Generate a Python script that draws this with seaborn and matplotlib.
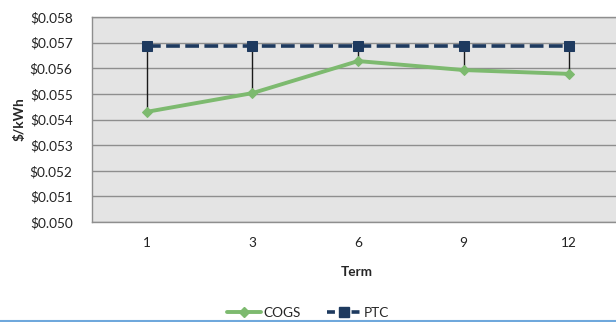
import matplotlib
matplotlib.use("Agg")
import matplotlib.pyplot as plt
from matplotlib.lines import Line2D
import seaborn as sns
import pandas as pd

terms = ["1", "3", "6", "9", "12"]
cogs = [0.05430, 0.05503, 0.05628, 0.05593, 0.05578]
ptc = [0.05688, 0.05688, 0.05688, 0.05688, 0.05688]
y_ticks = [0.050, 0.051, 0.052, 0.053, 0.054, 0.055, 0.056, 0.057, 0.058]

sns.set_theme(style="white")
plt.rcParams["font.family"] = ["Lato", "DejaVu Sans"]

pos = list(range(len(terms)))
df = pd.DataFrame({
    "pos": pos * 2,
    "value": cogs + ptc,
    "series": ["COGS"] * len(terms) + ["PTC"] * len(terms),
})

fig = plt.figure(figsize=(6.16, 3.22), dpi=100)
ax = fig.add_axes([92 / 616, 100 / 322, 1.0 - 92 / 616 + 6 / 616, 205 / 322])
ax.set_facecolor("#e4e4e4")

green = "#7dba6f"
navy = "#1e3a5f"
dash = (0, (3.8, 1.5))
fs = 9.8

# high-low lines between the two series
ax.vlines(pos, cogs, ptc, color="#1a1a1a", lw=1.0, zorder=2)

sns.lineplot(data=df[df.series == "COGS"], x="pos", y="value", ax=ax,
             color=green, lw=2.8, marker="D", markersize=5,
             markeredgecolor=green, label="COGS", zorder=3)
sns.lineplot(data=df[df.series == "PTC"], x="pos", y="value", ax=ax,
             color=navy, lw=2.6, linestyle=dash, marker="s",
             markersize=6.5, markeredgecolor=navy, label="PTC", zorder=4)

ax.set_xlim(-0.52, 4.5)
ax.set_ylim(0.050, 0.058)
ax.set_yticks(y_ticks)
ax.set_yticklabels([f"${v:.3f}" for v in y_ticks], fontsize=fs, color="#222222")
ax.set_xticks(pos)
ax.set_xticklabels(terms, fontsize=fs, color="#222222")
ax.tick_params(axis="both", length=0)
ax.tick_params(axis="y", pad=14)
ax.tick_params(axis="x", pad=11)
ax.grid(axis="y", color="#8e8e8e", lw=1.0)
ax.set_axisbelow(True)
for s in ax.spines.values():
    s.set_color("#8e8e8e")
    s.set_linewidth(1.0)

ax.set_xlabel("Term", fontsize=fs, fontweight="bold", labelpad=12)
ax.set_ylabel("$/kWh", fontsize=fs, fontweight="bold", labelpad=3)

ax.get_legend().remove()
handles = [
    Line2D([], [], color=green, lw=2.8, marker="D", markersize=5),
    Line2D([], [], color=navy, lw=2.6, linestyle=(0, (2.2, 1.2)), marker="s", markersize=6.5),
]
fig.legend(handles, ["COGS", "PTC"], loc="center", bbox_to_anchor=(308 / 616, 9 / 322),
           ncol=2, frameon=False, fontsize=fs, handlelength=2.5, columnspacing=1.9,
           handletextpad=0.2, borderpad=0.0)

fig.add_artist(Line2D([0, 1], [0.8 / 322, 0.8 / 322], color="#6fa8dc", lw=1.5))

fig.savefig("out.png", dpi=100)
